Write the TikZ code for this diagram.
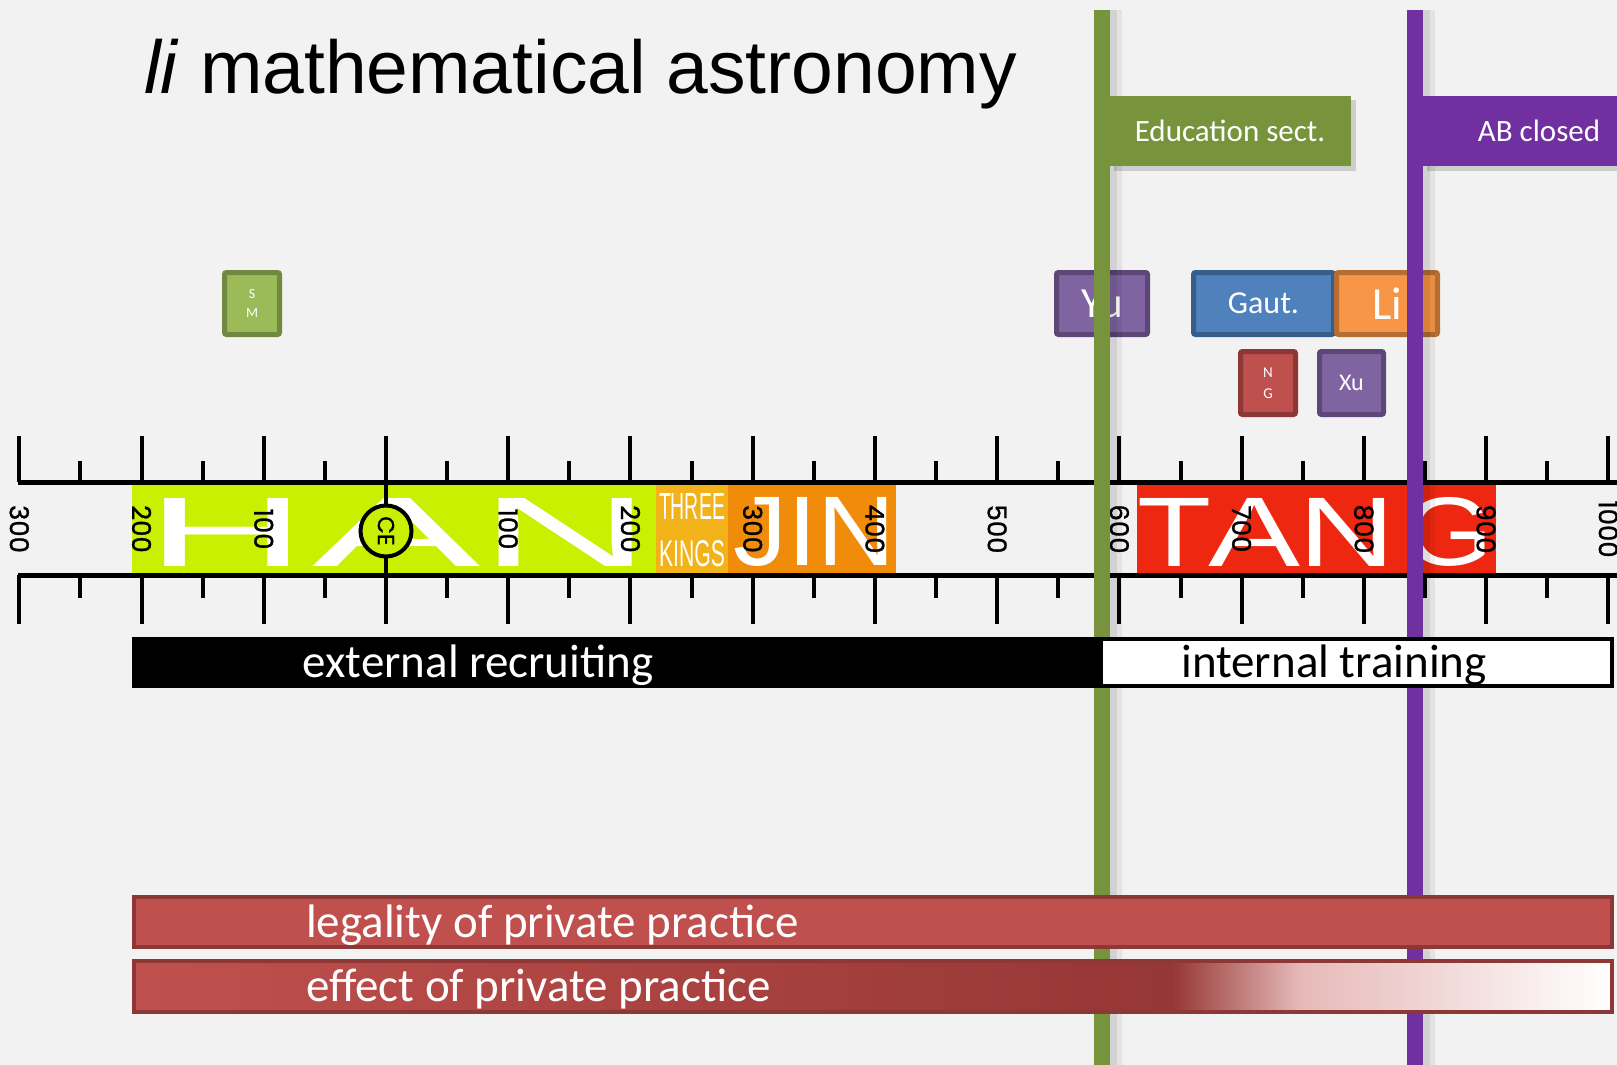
\documentclass[tikz,border=0pt]{standalone}
\usepackage{fontspec}
\usepackage{graphicx}
\setmainfont{Carlito}
\newfontfamily\arialf{Liberation Sans}
\newfontfamily\yearf[FakeBold=1]{Poppins}
\definecolor{bgc}{HTML}{F2F2F2}
\definecolor{olivec}{HTML}{77933C}
\definecolor{purplec}{HTML}{7030A0}
\definecolor{gfill}{HTML}{9BBB59}\definecolor{gdraw}{HTML}{71893F}
\definecolor{pfill}{HTML}{8064A2}\definecolor{pdraw}{HTML}{5C4776}
\definecolor{bfill}{HTML}{4F81BD}\definecolor{bdraw}{HTML}{385D8A}
\definecolor{ofill}{HTML}{F79646}\definecolor{odraw}{HTML}{B66D31}
\definecolor{rfill}{HTML}{C0504D}\definecolor{rdraw}{HTML}{8C3836}
\definecolor{rdark}{HTML}{953735}
\definecolor{rpale}{HTML}{E6B9B8}
\definecolor{hanc}{HTML}{C8F000}
\definecolor{threec}{HTML}{F2B31A}
\definecolor{jinc}{HTML}{F08C0A}
\definecolor{tangc}{HTML}{EE2810}
\tikzset{
  evbox/.style={draw, line width=5pt, rounded corners=2pt, inner sep=0pt, text=white, align=center},
  bigletter/.style={inner sep=0pt, text=white, font=\arialf},
  yearlbl/.style={rotate=-90, inner sep=0pt, font=\yearf\fontsize{26}{26}\selectfont},
  bartext/.style={inner sep=0pt, anchor=base, font=\fontsize{47}{47}\selectfont},
  flagtext/.style={inner sep=0pt, text=white, font=\fontsize{31}{31}\selectfont},
  tickln/.style={line width=4pt},
  axisln/.style={line width=5pt},
}
\begin{document}
\begin{tikzpicture}[x=1pt,y=-1pt]
\useasboundingbox (0,0) rectangle (1617,1065);
\fill[bgc] (0,0) rectangle (1617,1065);

% title
\node[anchor=base west, inner sep=0pt, font=\arialf\fontsize{75}{75}\selectfont] (title) at (144,93) {\textit{li} mathematical astronomy};

% event boxes
\node[evbox, fill=gfill, draw=gdraw, minimum width=55pt, minimum height=62pt, font=\fontsize{14}{19}\selectfont] (sm) at (252,303.5) {S\\M};
\node[evbox, fill=pfill, draw=pdraw, minimum width=91pt, minimum height=62pt, font=\fontsize{43}{43}\selectfont] (yu) at (1102,303.5) {Yu};
\node[evbox, fill=bfill, draw=bdraw, minimum width=140pt, minimum height=62pt, font=\fontsize{32}{32}\selectfont] (gaut) at (1263.5,303.5) {Gaut.};
\node[evbox, fill=ofill, draw=odraw, minimum width=101pt, minimum height=62pt, font=\fontsize{46}{46}\selectfont] (li) at (1387,303.5) {Li};
\node[evbox, fill=rfill, draw=rdraw, minimum width=55pt, minimum height=63pt, font=\fontsize{15}{21}\selectfont] (ng) at (1268,383) {N\\G};
\node[evbox, fill=pfill, draw=pdraw, minimum width=64pt, minimum height=63pt, font=\fontsize{24}{24}\selectfont] (xu) at (1351.5,383) {Xu};

% dynasty bands
\fill[hanc] (132,482) rectangle (656,575);
\fill[threec] (656,482) rectangle (728,575);
\fill[jinc] (728,482) rectangle (896,575);
\fill[tangc] (1137,482) rectangle (1496,575);

\node[bigletter] (hanH) at (226.5,532) {\resizebox{160pt}{68pt}{H}};
\node[bigletter] (hanA) at (397,532) {\resizebox{168pt}{68pt}{A}};
\node[bigletter] (hanN) at (566,532) {\resizebox{172pt}{68pt}{N}};
\node[bigletter] (three) at (692,506) {\resizebox{66pt}{26pt}{THREE}};
\node[bigletter] (kings) at (692,554) {\resizebox{66pt}{26pt}{KINGS}};
\node[bigletter] (jin) at (814,532) {\resizebox{162pt}{68pt}{JIN}};
\node[bigletter] (tangT) at (1174.5,532) {\resizebox{74pt}{68pt}{T}};
\node[bigletter] (tangA) at (1255,532) {\resizebox{92pt}{68pt}{A}};
\node[bigletter] (tangN) at (1347.5,532) {\resizebox{97pt}{68pt}{N}};
\node[bigletter] (tangG) at (1449,532) {\resizebox{90pt}{68pt}{G}};

% axis
\draw[axisln] (18,482) -- (1617,482);
\draw[axisln] (18,575) -- (1617,575);
\foreach \yr in {-300,-200,...,1000}{
  \pgfmathsetmacro\xx{386+1.2223*\yr}
  \draw[tickln] (\xx,436) -- (\xx,482);
  \draw[tickln] (\xx,575) -- (\xx,624);
}
\foreach \yr in {-250,-150,...,950}{
  \pgfmathsetmacro\xx{386+1.2223*\yr}
  \draw[tickln] (\xx,461) -- (\xx,482);
  \draw[tickln] (\xx,575) -- (\xx,598);
}
\draw[tickln] (386,482) -- (386,575);
\node[circle, draw, line width=4pt, fill=hanc, minimum size=51pt, inner sep=0pt] (ce) at (386,531)
  {\rotatebox{-90}{\yearf\fontsize{23}{23}\selectfont CE}};
\foreach \yr/\lab [count=\i] in {-300/300,-200/200,-100/100,100/100,200/200,300/300,400/400,500/500,600/600,700/700,800/800,900/900,1000/1000}{
  \pgfmathsetmacro\xx{386+1.2223*\yr}
  \node[yearlbl] (yl\i) at (\xx,529) {\lab};
}

% vertical lines
\fill[black, opacity=0.13] (1110,10) rectangle (1117,1065);
\fill[black, opacity=0.06] (1117,10) rectangle (1122,1065);
\fill[olivec] (1094,10) rectangle (1110,1065);
\fill[black, opacity=0.13] (1423,10) rectangle (1430,1065);
\fill[black, opacity=0.06] (1430,10) rectangle (1435,1065);
\fill[purplec] (1407,10) rectangle (1423,1065);

% flags
\fill[black, opacity=0.15] (1114,100) rectangle (1356,171);
\fill[olivec] (1110,96) rectangle (1351,166);
\node[flagtext] (edu) at (1230,131) {Education sect.};
\fill[black, opacity=0.15] (1427,100) rectangle (1617,171);
\fill[purplec] (1423,96) rectangle (1617,166);
\node[flagtext] (ab) at (1539,131) {AB closed};

% recruiting bar
\fill[black] (132,637) rectangle (1614,688);
\fill[white] (1103,641) rectangle (1610,684);
\node[bartext, text=white] (ext) at (478,677) {external recruiting};
\node[bartext, text=black] (int) at (1334,677) {internal training};

% private practice bars
\fill[rfill] (134,897) rectangle (1612,947);
\draw[rdraw, line width=4pt] (134,897) rectangle (1612,947);
\node[bartext, anchor=base west, text=white] (leg) at (306,937) {legality of private practice};

\shade[left color=rfill, right color=rdark] (134,961) rectangle (1172,1012);
\shade[left color=rdark, right color=rpale] (1172,961) rectangle (1300,1012);
\shade[left color=rpale, right color=white] (1300,961) rectangle (1612,1012);
\draw[rdraw, line width=4pt] (134,961) rectangle (1612,1012);
\node[bartext, anchor=base west, text=white] (eff) at (306,1001) {effect of private practice};
\end{tikzpicture}
\end{document}
